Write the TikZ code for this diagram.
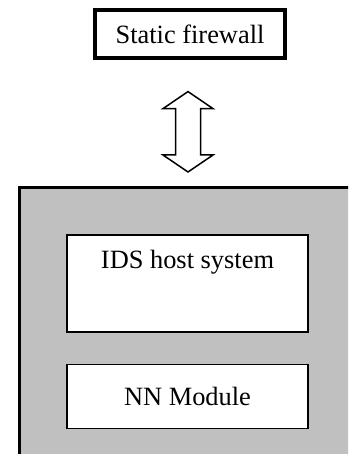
\documentclass[tikz,border=0pt]{standalone}
\usepackage{fontspec}
\setmainfont{Liberation Serif}
\usetikzlibrary{positioning}
\definecolor{panelgray}{HTML}{C0C0C0}

\begin{document}
\begin{tikzpicture}[
  node distance=15.5pt,
  font=\fontsize{13.2}{16}\selectfont,
  outerbox/.style={
    rectangle, draw, line width=1.6pt,
    minimum width=95pt, minimum height=24pt,
    text centered
  },
  panel/.style={
    rectangle, draw, line width=1.6pt, fill=panelgray,
    minimum width=200pt, minimum height=150pt, anchor=north west
  },
  inbox/.style={
    rectangle, draw, line width=0.7pt, fill=white,
    minimum width=120.5pt, text centered
  },
  dblarrow/.style={draw, line width=0.75pt, line join=miter}
]
\useasboundingbox (0,0) rectangle (174pt,-227pt);

\node[outerbox] (fw) at (95pt,-17pt) {Static firewall};

\begin{scope}
\clip (0,0) rectangle (174pt,-227pt);
\node[panel] (host) at (9pt,-93pt) {};
\end{scope}

\node[inbox, minimum height=48.5pt] (ids) at (93.75pt,-141.75pt) {};
\node (idstext) at ([yshift=-14pt]ids.north) {IDS host system};
\node[inbox, minimum height=32pt, below=of ids] (nn) {NN Module};

% two-way link between firewall and host
\coordinate (atop) at ([xshift=-1pt,yshift=-16pt]fw.south);
\coordinate (abot) at ([yshift=7pt]atop |- host.north);
\draw[dblarrow] (atop) -- ++(12.5pt,-8.5pt) -- ++(-6.25pt,0)
  -- ([xshift=6.25pt,yshift=8.5pt]abot) -- ++(6.25pt,0) -- (abot)
  -- ++(-12.5pt,8.5pt) -- ++(6.25pt,0)
  -- ([xshift=-6.25pt,yshift=-8.5pt]atop) -- ++(-6.25pt,0) -- cycle;

\end{tikzpicture}
\end{document}
